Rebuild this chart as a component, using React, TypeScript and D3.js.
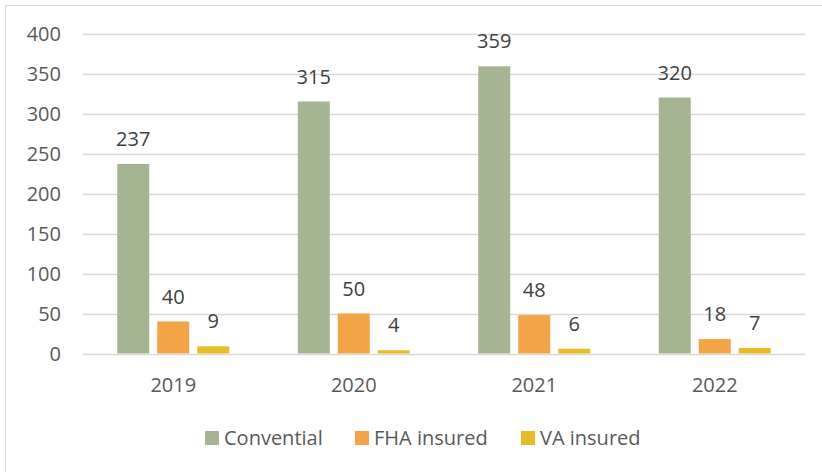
import React, { useEffect, useRef } from 'react';
import * as d3 from 'd3';

const years = ['2019', '2020', '2021', '2022'];
const seriesNames = ['Convential', 'FHA insured', 'VA insured'];
const conventional = [237, 315, 359, 320];
const fhaInsured = [40, 50, 48, 18];
const vaInsured = [9, 4, 6, 7];
const yTicks = [0, 50, 100, 150, 200, 250, 300, 350, 400];
const colors = ['#A5B592', '#F3A447', '#E6BC2B'];

const FONT = "'Open Sans', 'Noto Sans', sans-serif";

const App: React.FC = () => {
  const svgRef = useRef<SVGSVGElement>(null);

  useEffect(() => {
    if (!svgRef.current) return;
    const svg = d3.select(svgRef.current);
    svg.selectAll('*').remove();

    const values = [conventional, fhaInsured, vaInsured];
    const left = 83;
    const right = 805;
    const top = 33.5;
    const bottom = 353.5;

    // outer chart border
    svg.append('rect')
      .attr('x', 5.5).attr('y', 5.5)
      .attr('width', 840).attr('height', 490)
      .attr('fill', '#fff')
      .attr('stroke', '#D9D9D9')
      .attr('stroke-width', 1);

    const yScale = d3.scaleLinear().domain([0, 400]).range([bottom, top]);
    const x0 = d3.scaleBand<string>().domain(years).range([left, right]);
    const x1 = d3.scaleBand<string>().domain(seriesNames).range([0, 112]).paddingInner(0.2);

    // gridlines
    svg.append('g')
      .selectAll('line')
      .data(yTicks)
      .enter()
      .append('line')
      .attr('x1', left).attr('x2', right)
      .attr('y1', d => Math.round(yScale(d)) + 0.5)
      .attr('y2', d => Math.round(yScale(d)) + 0.5)
      .attr('stroke', '#D9D9D9')
      .attr('stroke-width', 1.3);

    // y tick labels
    svg.append('g')
      .selectAll('text')
      .data(yTicks)
      .enter()
      .append('text')
      .attr('x', 61)
      .attr('y', d => yScale(d) + 7)
      .attr('text-anchor', 'end')
      .style('font-family', FONT)
      .style('font-size', '20px')
      .style('fill', '#595959')
      .text(d => d);

    // bars and labels
    seriesNames.forEach((name, si) => {
      const g = svg.append('g');
      g.selectAll('rect')
        .data(years)
        .enter()
        .append('rect')
        .attr('x', d => (x0(d) as number) + x0.bandwidth() / 2 - 56 + (x1(name) as number))
        .attr('y', (d, i) => yScale(values[si][i]))
        .attr('width', x1.bandwidth())
        .attr('height', (d, i) => bottom - yScale(values[si][i]))
        .attr('fill', colors[si]);

      g.selectAll('text')
        .data(years)
        .enter()
        .append('text')
        .attr('x', d => (x0(d) as number) + x0.bandwidth() / 2 - 56 + (x1(name) as number) + x1.bandwidth() / 2)
        .attr('y', (d, i) => yScale(values[si][i]) - 18)
        .attr('text-anchor', 'middle')
        .style('font-family', FONT)
        .style('font-size', '20px')
        .style('fill', '#404040')
        .text((d, i) => values[si][i]);
    });

    // x labels
    svg.append('g')
      .selectAll('text')
      .data(years)
      .enter()
      .append('text')
      .attr('x', d => (x0(d) as number) + x0.bandwidth() / 2)
      .attr('y', 392)
      .attr('text-anchor', 'middle')
      .style('font-family', FONT)
      .style('font-size', '20px')
      .style('fill', '#595959')
      .text(d => d);

    // legend
    const legendX = [205, 355, 521];
    seriesNames.forEach((name, i) => {
      const row = svg.append('g').attr('transform', `translate(${legendX[i]}, 431)`);
      row.append('rect')
        .attr('width', 14).attr('height', 14)
        .attr('fill', colors[i]);
      row.append('text')
        .attr('x', 19)
        .attr('y', 14)
        .style('font-family', FONT)
        .style('font-size', '20px')
        .style('fill', '#595959')
        .text(name);
    });
  }, []);

  return (
    <svg
      ref={svgRef}
      width="822"
      height="472"
      style={{ position: 'absolute', left: 0, top: 0, display: 'block', background: '#fff' }}
    />
  );
};

export default App;
